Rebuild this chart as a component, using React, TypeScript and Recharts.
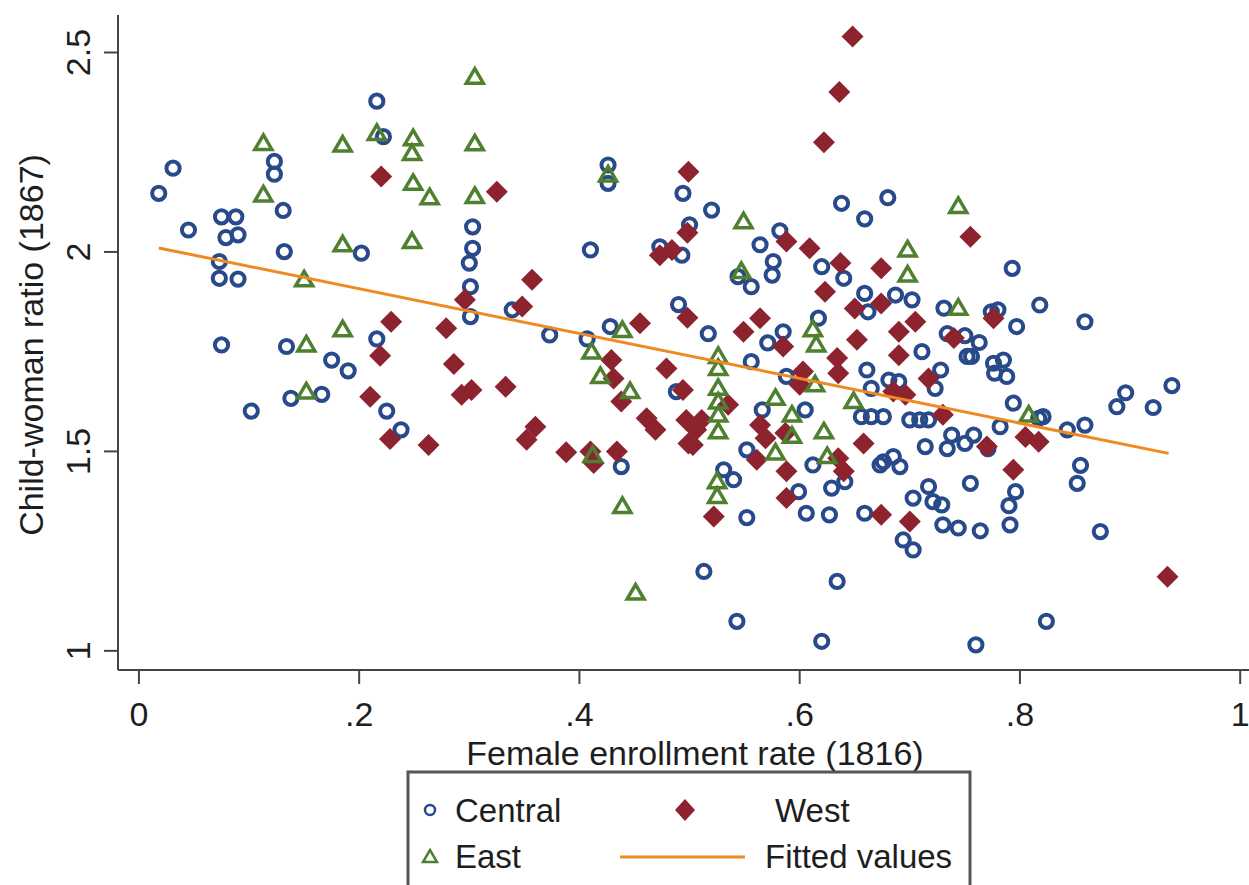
import { ScatterChart, Scatter, XAxis, YAxis } from 'recharts';

// [enrollment rate 1816, child-woman ratio 1867]
const central: [number, number][] = [
  [0.018, 2.147], [0.031, 2.21], [0.045, 2.055], [0.075, 2.088], [0.088, 2.088], [0.079, 2.036],
  [0.09, 2.043], [0.073, 1.976], [0.073, 1.934], [0.09, 1.932], [0.123, 2.227], [0.123, 2.195],
  [0.131, 2.104], [0.132, 2.001], [0.202, 1.997], [0.216, 2.378], [0.222, 2.289], [0.075, 1.767],
  [0.134, 1.763], [0.216, 1.782], [0.175, 1.729], [0.19, 1.702], [0.102, 1.601], [0.138, 1.633],
  [0.166, 1.643], [0.225, 1.601], [0.238, 1.554], [0.303, 2.063], [0.303, 2.009], [0.3, 1.972],
  [0.301, 1.913], [0.301, 1.838], [0.41, 2.005], [0.426, 2.218], [0.426, 2.172], [0.494, 2.147],
  [0.5, 2.068], [0.493, 1.992], [0.473, 2.013], [0.49, 1.868], [0.428, 1.813], [0.373, 1.792],
  [0.407, 1.782], [0.339, 1.855], [0.438, 1.462], [0.488, 1.65], [0.52, 2.105], [0.638, 2.122],
  [0.659, 2.083], [0.68, 2.136], [0.564, 2.018], [0.582, 2.053], [0.576, 1.976], [0.575, 1.942],
  [0.544, 1.938], [0.556, 1.913], [0.62, 1.963], [0.64, 1.934], [0.659, 1.896], [0.662, 1.85],
  [0.687, 1.892], [0.702, 1.88], [0.731, 1.859], [0.517, 1.795], [0.585, 1.8], [0.617, 1.834],
  [0.734, 1.795], [0.75, 1.79], [0.571, 1.772], [0.793, 1.959], [0.818, 1.867], [0.797, 1.813],
  [0.859, 1.825], [0.78, 1.855], [0.774, 1.85], [0.763, 1.773], [0.556, 1.725], [0.588, 1.688],
  [0.711, 1.75], [0.752, 1.738], [0.661, 1.704], [0.665, 1.658], [0.681, 1.679], [0.69, 1.675],
  [0.728, 1.704], [0.723, 1.658], [0.605, 1.604], [0.566, 1.604], [0.656, 1.587], [0.665, 1.587],
  [0.676, 1.587], [0.7, 1.579], [0.709, 1.579], [0.717, 1.579], [0.714, 1.512], [0.734, 1.507],
  [0.738, 1.541], [0.75, 1.52], [0.552, 1.504], [0.612, 1.466], [0.676, 1.474], [0.685, 1.487],
  [0.691, 1.462], [0.673, 1.466], [0.531, 1.454], [0.54, 1.429], [0.599, 1.399], [0.629, 1.408],
  [0.641, 1.424], [0.606, 1.345], [0.627, 1.341], [0.659, 1.345], [0.552, 1.334], [0.703, 1.383],
  [0.717, 1.412], [0.721, 1.374], [0.729, 1.366], [0.73, 1.316], [0.744, 1.308], [0.694, 1.278],
  [0.703, 1.253], [0.513, 1.199], [0.634, 1.174], [0.543, 1.074], [0.62, 1.024], [0.755, 1.42],
  [0.76, 1.015], [0.756, 1.738], [0.776, 1.721], [0.785, 1.729], [0.777, 1.696], [0.788, 1.688],
  [0.794, 1.621], [0.821, 1.587], [0.817, 1.583], [0.782, 1.562], [0.758, 1.541], [0.771, 1.507],
  [0.843, 1.554], [0.859, 1.566], [0.896, 1.647], [0.888, 1.612], [0.921, 1.61], [0.938, 1.665],
  [0.855, 1.465], [0.852, 1.42], [0.796, 1.399], [0.79, 1.364], [0.791, 1.316], [0.764, 1.301],
  [0.873, 1.299], [0.824, 1.074],
];

const west: [number, number][] = [
  [0.22, 2.189], [0.229, 1.825], [0.219, 1.74], [0.21, 1.637], [0.228, 1.531], [0.325, 2.151],
  [0.357, 1.93], [0.348, 1.863], [0.296, 1.88], [0.279, 1.809], [0.455, 1.821], [0.473, 1.992],
  [0.484, 2.005], [0.499, 2.201], [0.498, 2.048], [0.498, 1.835], [0.286, 1.719], [0.293, 1.642],
  [0.302, 1.654], [0.333, 1.662], [0.263, 1.516], [0.352, 1.529], [0.36, 1.562], [0.388, 1.498],
  [0.41, 1.5], [0.413, 1.471], [0.434, 1.5], [0.429, 1.729], [0.431, 1.683], [0.438, 1.625],
  [0.461, 1.583], [0.469, 1.554], [0.479, 1.708], [0.494, 1.654], [0.497, 1.579], [0.499, 1.52],
  [0.648, 2.54], [0.636, 2.401], [0.622, 2.275], [0.588, 2.026], [0.609, 2.009], [0.637, 1.972],
  [0.674, 1.959], [0.623, 1.9], [0.65, 1.858], [0.674, 1.871], [0.564, 1.834], [0.549, 1.8],
  [0.652, 1.78], [0.69, 1.8], [0.705, 1.825], [0.74, 1.784], [0.755, 2.038], [0.776, 1.834],
  [0.585, 1.763], [0.69, 1.741], [0.634, 1.734], [0.635, 1.696], [0.603, 1.7], [0.6, 1.667],
  [0.685, 1.65], [0.696, 1.642], [0.717, 1.683], [0.73, 1.592], [0.511, 1.579], [0.506, 1.554],
  [0.503, 1.516], [0.535, 1.617], [0.564, 1.566], [0.569, 1.533], [0.587, 1.546], [0.561, 1.479],
  [0.588, 1.45], [0.635, 1.483], [0.64, 1.45], [0.588, 1.383], [0.658, 1.52], [0.522, 1.337],
  [0.674, 1.341], [0.7, 1.324], [0.77, 1.512], [0.805, 1.536], [0.817, 1.524], [0.794, 1.454],
  [0.934, 1.186],
];

const east: [number, number][] = [
  [0.113, 2.272], [0.113, 2.143], [0.185, 2.268], [0.216, 2.297], [0.185, 2.018], [0.15, 1.93],
  [0.185, 1.805], [0.152, 1.767], [0.152, 1.649], [0.305, 2.438], [0.249, 2.284], [0.248, 2.247],
  [0.305, 2.271], [0.249, 2.172], [0.264, 2.136], [0.305, 2.139], [0.248, 2.026], [0.426, 2.193],
  [0.439, 1.803], [0.411, 1.749], [0.419, 1.688], [0.446, 1.65], [0.412, 1.49], [0.439, 1.362],
  [0.451, 1.145], [0.549, 2.076], [0.547, 1.951], [0.698, 2.005], [0.698, 1.942], [0.744, 2.114],
  [0.744, 1.859], [0.612, 1.805], [0.526, 1.738], [0.526, 1.708], [0.526, 1.658], [0.526, 1.624],
  [0.526, 1.591], [0.526, 1.549], [0.525, 1.424], [0.525, 1.387], [0.615, 1.767], [0.614, 1.667],
  [0.649, 1.625], [0.578, 1.633], [0.593, 1.591], [0.593, 1.538], [0.622, 1.549], [0.578, 1.496],
  [0.625, 1.487], [0.808, 1.591],
];

const fitted: [number, number][] = [[0.018, 2.01], [0.935, 1.495]];

const xTicks = [0, 0.2, 0.4, 0.6, 0.8, 1];
const xTickLabels = ['0', '.2', '.4', '.6', '.8', '1'];
const yTicks = [1, 1.5, 2, 2.5];
const yTickLabels = ['1', '1.5', '2', '2.5'];

const NAVY = '#284a8a';
const MAROON = '#8e2330';
const GREEN = '#4f8030';
const ORANGE = '#ef8a22';
const AXIS = '#444';
const FONT = '"Liberation Sans", Arial, sans-serif';

const toPts = (arr: [number, number][]) => arr.map(([x, y]) => ({ x, y }));

const CircleMark = (p: any) => (
  <circle cx={p.cx} cy={p.cy} r={6.6} fill="none" stroke={NAVY} strokeWidth={4} />
);

const DiamondMark = (p: any) => {
  const s = 11;
  return (
    <path
      d={`M${p.cx},${p.cy - s}L${p.cx + s},${p.cy}L${p.cx},${p.cy + s}L${p.cx - s},${p.cy}Z`}
      fill={MAROON}
    />
  );
};

const TriangleMark = (p: any) => (
  <path
    d={`M${p.cx},${p.cy - 8.5}L${p.cx + 8.5},${p.cy + 6}L${p.cx - 8.5},${p.cy + 6}Z`}
    fill="none"
    stroke={GREEN}
    strokeWidth={3.5}
  />
);

const XTick = (p: any) => {
  const i = xTicks.indexOf(p.payload.value);
  return (
    <text x={p.x} y={p.y + 40} textAnchor="middle" fontSize={34} fontFamily={FONT} fill="#1e1e1e">
      {xTickLabels[i] ?? p.payload.value}
    </text>
  );
};

const YTick = (p: any) => {
  const i = yTicks.indexOf(p.payload.value);
  const bx = p.x - 12;
  return (
    <text
      x={bx}
      y={p.y}
      transform={`rotate(-90 ${bx} ${p.y})`}
      textAnchor="middle"
      fontSize={34}
      fontFamily={FONT}
      fill="#1e1e1e"
    >
      {yTickLabels[i] ?? p.payload.value}
    </text>
  );
};

function LegendBox() {
  return (
    <svg
      width={1249}
      height={885}
      style={{ position: 'absolute', left: 0, top: 0, pointerEvents: 'none' }}
    >
      <rect x={408} y={772} width={562} height={140} fill="#fff" stroke="#555" strokeWidth={3} />
      <circle cx={430} cy={810} r={5} fill="none" stroke={NAVY} strokeWidth={2.5} />
      <text x={455} y={822} fontSize={33} fontFamily={FONT} fill="#1e1e1e">Central</text>
      <path d="M685,799L695,810L685,821L675,810Z" fill={MAROON} />
      <text x={775} y={822} fontSize={33} fontFamily={FONT} fill="#1e1e1e">West</text>
      <path d="M430,850L437,862L423,862Z" fill="none" stroke={GREEN} strokeWidth={2.5} />
      <text x={455} y={868} fontSize={33} fontFamily={FONT} fill="#1e1e1e">East</text>
      <line x1={620} y1={857} x2={745} y2={857} stroke={ORANGE} strokeWidth={3} />
      <text x={765} y={868} fontSize={33} fontFamily={FONT} fill="#1e1e1e">Fitted values</text>
    </svg>
  );
}

export default function App() {
  return (
    <div
      style={{
        position: 'absolute',
        left: 0,
        top: 0,
        width: 1249,
        height: 885,
        overflow: 'hidden',
        background: '#fff',
      }}
    >
      <ScatterChart width={1249} height={885} margin={{ top: 15, right: 0, left: 0, bottom: 115 }}>
        <XAxis
          type="number"
          dataKey="x"
          domain={[-0.019, 1.008]}
          ticks={xTicks}
          allowDataOverflow
          height={100}
          tickSize={14}
          axisLine={{ stroke: AXIS, strokeWidth: 2 }}
          tickLine={{ stroke: AXIS, strokeWidth: 2 }}
          tick={<XTick />}
          label={{
            content: () => (
              <text x={695} y={765} textAnchor="middle" fontSize={34} fontFamily={FONT} fill="#1e1e1e">
                Female enrollment rate (1816)
              </text>
            ),
          }}
        />
        <YAxis
          type="number"
          dataKey="y"
          domain={[0.952, 2.594]}
          ticks={yTicks}
          allowDataOverflow
          width={118}
          tickSize={14}
          axisLine={{ stroke: AXIS, strokeWidth: 2 }}
          tickLine={{ stroke: AXIS, strokeWidth: 2 }}
          tick={<YTick />}
          label={{
            content: () => (
              <text
                x={43}
                y={345}
                transform="rotate(-90 43 345)"
                textAnchor="middle"
                fontSize={34}
                fontFamily={FONT}
                fill="#1e1e1e"
              >
                Child-woman ratio (1867)
              </text>
            ),
          }}
        />
        <Scatter name="Central" data={toPts(central)} shape={<CircleMark />} isAnimationActive={false} />
        <Scatter name="West" data={toPts(west)} shape={<DiamondMark />} isAnimationActive={false} />
        <Scatter name="East" data={toPts(east)} shape={<TriangleMark />} isAnimationActive={false} />
        <Scatter
          name="Fitted values"
          data={toPts(fitted)}
          line={{ stroke: ORANGE, strokeWidth: 3 }}
          shape={() => <g />}
          isAnimationActive={false}
        />
      </ScatterChart>
      <LegendBox />
    </div>
  );
}
